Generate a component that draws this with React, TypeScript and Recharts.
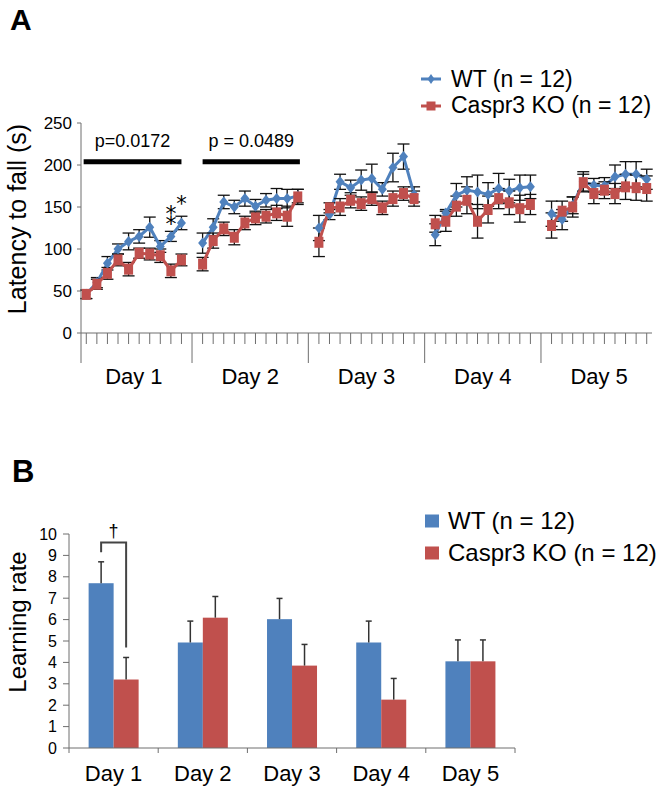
import React from 'react';
import {
  LineChart, Line, XAxis, YAxis, ErrorBar, ReferenceLine, ReferenceDot, Legend,
  BarChart, Bar,
} from 'recharts';

// ---------- data ----------
const days = ['Day 1', 'Day 2', 'Day 3', 'Day 4', 'Day 5'];
const trialsPerDay = 10;
const seriesNames = ['WT (n = 12)', 'Caspr3 KO (n = 12)'];

const wtLatency = [
  46, 60, 83, 100, 109, 115, 126, 103, 115, 131,
  107, 126, 156, 150, 160, 151, 158, 160, 160, 163,
  125, 141, 180, 173, 182, 184, 171, 197, 210, 165,
  117, 143, 164, 170, 168, 165, 172, 169, 173, 174,
  142, 135, 152, 180, 176, 175, 186, 189, 189, 183,
];
const wtLatencySem = [
  5, 6, 8, 6, 10, 8, 12, 7, 6, 8,
  12, 10, 8, 8, 9, 8, 8, 12, 11, 8,
  15, 6, 9, 9, 12, 17, 8, 17, 15, 9,
  13, 4, 14, 16, 20, 14, 18, 14, 15, 14,
  15, 12, 10, 12, 8, 10, 14, 15, 15, 12,
];
const koLatency = [
  46, 58, 71, 87, 76, 95, 94, 92, 74, 87,
  82, 110, 124, 114, 131, 137, 139, 143, 139, 162,
  108, 149, 150, 158, 154, 160, 149, 160, 166, 160,
  130, 133, 151, 158, 133, 147, 160, 155, 148, 153,
  128, 145, 150, 179, 166, 170, 166, 174, 173, 172,
];
const koLatencySem = [
  5, 6, 7, 7, 8, 6, 7, 8, 8, 7,
  8, 9, 8, 9, 8, 8, 8, 9, 12, 9,
  17, 6, 10, 9, 8, 8, 8, 9, 8, 9,
  10, 12, 12, 16, 20, 16, 12, 14, 16, 12,
  15, 12, 12, 10, 12, 10, 12, 15, 15, 15,
];
const latencyTicks = [0, 50, 100, 150, 200, 250];

const sigBars = [
  { from: -0.25, to: 9, y: 204, text: 'p=0.0172' },
  { from: 11, to: 20.2, y: 204, text: 'p = 0.0489' },
];
// significance marks: x position (trial slot), value level at mark centre, mark text
const stars = [
  { x: 8, y: 137, text: '\u2051', size: 22 },
  { x: 9, y: 153, text: '*', size: 21 },
];

const wtRate = [7.7, 4.93, 6.02, 4.93, 4.05];
const wtRateSem = [1.0, 1.0, 0.97, 1.0, 1.0];
const koRate = [3.2, 6.09, 3.85, 2.26, 4.05];
const koRateSem = [1.03, 0.99, 0.99, 0.99, 1.0];
const rateTicks = [0, 1, 2, 3, 4, 5, 6, 7, 8, 9, 10];
const rateBracket = { day: 'Day 1', top: 9.6, wtEnd: 9.15, koEnd: 4.7, symbol: '\u2020' };

// ---------- styles ----------
const BLUE = '#4F81BD';
const RED = '#C0504D';
const AXIS = '#6e6e6e';
const FONT = '"Liberation Sans", Arial, Helvetica, sans-serif';

// ---------- derived tables ----------
const lineData: any[] = [];
const gapPositions: number[] = [];
const dayCenters: number[] = [];
days.forEach((_, di) => {
  const start = lineData.length;
  for (let t = 0; t < trialsPerDay; t++) {
    const k = di * trialsPerDay + t;
    lineData.push({ x: lineData.length, wt: wtLatency[k], wtErr: wtLatencySem[k], ko: koLatency[k], koErr: koLatencySem[k] });
  }
  dayCenters.push(start + (trialsPerDay - 1) / 2);
  if (di < days.length - 1) {
    gapPositions.push(lineData.length);
    lineData.push({ x: lineData.length, wt: null, wtErr: null, ko: null, koErr: null });
  }
});
const xMin = -0.5;
const xMax = lineData.length - 0.5;
const xTicks = [xMin, ...lineData.map((d) => d.x), ...dayCenters];

const rateData = days.map((d, i) => ({
  day: d, wt: wtRate[i], wtErr: wtRateSem[i], ko: koRate[i], koErr: koRateSem[i],
}));

const sortBySeries = (payload: any[] = []) =>
  [...payload].sort((a, b) => seriesNames.indexOf(a.value) - seriesNames.indexOf(b.value));

// ---------- chart A helpers ----------
const A_W = 669, A_H = 400;
const A_MARGIN = { top: 123, right: 17, bottom: 7, left: 0 };

const LatencyTick = (props: any) => {
  const { x, y, payload } = props;
  const v = payload.value;
  const dayIdx = dayCenters.indexOf(v);
  if (dayIdx >= 0) {
    return (
      <text x={x} y={y + 51} textAnchor="middle" fontSize={22} fill="#000">{days[dayIdx]}</text>
    );
  }
  const major = v === xMin || gapPositions.includes(v);
  return <line x1={x} x2={x} y1={y} y2={y + (major ? 30 : 11)} stroke={AXIS} strokeWidth={1} />;
};

const DiamondDot = ({ cx, cy, fill }: any) => {
  if (cx == null || cy == null || Number.isNaN(cy)) return <g />;
  return <path d={`M${cx} ${cy - 5.5} L${cx + 4.5} ${cy} L${cx} ${cy + 5.5} L${cx - 4.5} ${cy} Z`} fill={fill} />;
};
const SquareDot = ({ cx, cy, fill }: any) => {
  if (cx == null || cy == null || Number.isNaN(cy)) return <g />;
  return <rect x={cx - 4.5} y={cy - 5.5} width={9} height={11} fill={fill} />;
};

const legendA = (props: any) => (
  <div style={{ fontFamily: FONT }}>
    {sortBySeries(props.payload).map((entry: any, i: number) => (
      <div key={i} style={{ display: 'flex', alignItems: 'center', height: 26.5, fontSize: 23, color: '#000', whiteSpace: 'nowrap' }}>
        <svg width={22} height={14} style={{ marginRight: 9 }}>
          <line x1={1} x2={21} y1={7} y2={7} stroke={entry.color} strokeWidth={3} />
          {entry.dataKey === 'wt'
            ? <path d="M11 2 L14.5 7 L11 12 L7.5 7 Z" fill={entry.color} />
            : <rect x={6.5} y={2.5} width={9} height={9} fill={entry.color} />}
        </svg>
        <span>{entry.value}</span>
      </div>
    ))}
  </div>
);

const yLabelA = (props: any) => {
  const vb = props.viewBox || {};
  const cx = 17;
  const cy = vb.y + vb.height / 2 - 9;
  return (
    <text x={cx} y={cy} transform={`rotate(-90 ${cx} ${cy})`} textAnchor="middle" dominantBaseline="central" fontSize={25} fill="#000">
      Latency to fall (s)
    </text>
  );
};

// ---------- chart B helpers ----------
const B_W = 669, B_H = 368, B_TOP = 420;
const B_MARGIN = { top: 114, right: 154, bottom: 0, left: 0 };
const B_YAXIS_W = 69;
const rateBand = (B_W - B_MARGIN.left - B_YAXIS_W - B_MARGIN.right) / days.length;

const RateTick = (props: any) => {
  const { x, y, payload } = props;
  const idx = days.indexOf(payload.value);
  const half = rateBand / 2;
  return (
    <g>
      <line x1={x - half} x2={x - half} y1={y} y2={y + 5} stroke={AXIS} />
      {idx === days.length - 1 && <line x1={x + half} x2={x + half} y1={y} y2={y + 5} stroke={AXIS} />}
      <text x={x} y={y + 33} textAnchor="middle" fontSize={22} fill="#000">{payload.value}</text>
    </g>
  );
};

const makeRateShape = (valueKey: string, errKey: string, withBracket: boolean) => (props: any) => {
  const { x, y, width, height, payload, fill } = props;
  const v = payload[valueKey];
  const ppu = height / v;
  const base = y + height;
  const cx = x + width / 2;
  const errTop = y - payload[errKey] * ppu;
  let bracket = null;
  if (withBracket && payload.day === rateBracket.day) {
    const yOf = (val: number) => base - val * ppu;
    const leftX = cx - width;
    const topY = yOf(rateBracket.top);
    bracket = (
      <g>
        <path d={`M${leftX} ${yOf(rateBracket.wtEnd)} V${topY} H${cx} V${yOf(rateBracket.koEnd)}`} fill="none" stroke="#444" strokeWidth={2} />
        <text x={(leftX + cx) / 2} y={topY - 6} textAnchor="middle" fontSize={18} fill="#000">{rateBracket.symbol}</text>
      </g>
    );
  }
  return (
    <g>
      <rect x={x} y={y} width={width} height={height} fill={fill} />
      <line x1={cx} x2={cx} y1={y} y2={errTop} stroke="#333" strokeWidth={1.5} />
      <line x1={cx - 3} x2={cx + 3} y1={errTop} y2={errTop} stroke="#333" strokeWidth={1.5} />
      {bracket}
    </g>
  );
};

const legendB = (props: any) => (
  <div style={{ fontFamily: FONT }}>
    {sortBySeries(props.payload).map((entry: any, i: number) => (
      <div key={i} style={{ display: 'flex', alignItems: 'center', height: 32, fontSize: 24, color: '#000', whiteSpace: 'nowrap' }}>
        <svg width={16} height={14} style={{ marginRight: 8 }}>
          <rect x={1} y={0.5} width={14} height={13} fill={entry.color} />
        </svg>
        <span>{entry.value}</span>
      </div>
    ))}
  </div>
);

const yLabelB = (props: any) => {
  const vb = props.viewBox || {};
  const cx = 17;
  const cy = vb.y + vb.height / 2 - 19;
  return (
    <text x={cx} y={cy} transform={`rotate(-90 ${cx} ${cy})`} textAnchor="middle" dominantBaseline="central" fontSize={24} fill="#000">
      Learning rate
    </text>
  );
};

export default function App() {
  return (
    <div style={{ position: 'absolute', left: 0, top: 0, width: 669, height: 788, background: '#fff', fontFamily: FONT }}>
      <div style={{ position: 'absolute', left: 10, top: 5, fontSize: 30, fontWeight: 'bold', lineHeight: 1 }}>A</div>
      <div style={{ position: 'absolute', left: 12, top: 456, fontSize: 31, fontWeight: 'bold', lineHeight: 1 }}>B</div>

      <div style={{ position: 'absolute', left: 0, top: 0 }}>
        <LineChart width={A_W} height={A_H} data={lineData} margin={A_MARGIN}>
          <XAxis
            type="number" dataKey="x" domain={[xMin, xMax]} ticks={xTicks} interval={0}
            allowDecimals tickLine={false} tickSize={0} tickMargin={0} height={60}
            axisLine={{ stroke: AXIS }} tick={<LatencyTick />}
          />
          <YAxis
            type="number" domain={[0, 250]} ticks={latencyTicks} interval={0} width={81}
            tickSize={4} tickMargin={5} axisLine={{ stroke: AXIS }} tickLine={{ stroke: AXIS }}
            tick={{ fontSize: 17, fill: '#000' }} label={yLabelA}
          />
          <Legend
            layout="vertical" align="center" verticalAlign="middle" content={legendA}
            wrapperStyle={{ left: 420, top: 66, width: 249 }}
          />
          {sigBars.map((b, i) => (
            <ReferenceLine
              key={`sig${i}`}
              segment={[{ x: b.from, y: b.y }, { x: b.to, y: b.y }]}
              stroke="#000" strokeWidth={5} ifOverflow="visible"
              label={(p: any) => {
                const vb = p.viewBox || {};
                return (
                  <text x={vb.x + (vb.width || 0) / 2} y={vb.y - 15} textAnchor="middle" fontSize={18} fill="#000">{b.text}</text>
                );
              }}
            />
          ))}
          <Line
            name={seriesNames[0]} dataKey="wt" stroke={BLUE} strokeWidth={3} isAnimationActive={false}
            connectNulls={false}
            dot={(p: any) => <DiamondDot key={`wd${p.index}`} cx={p.cx} cy={p.cy} fill={BLUE} />}
            activeDot={false}
          >
            <ErrorBar dataKey="wtErr" width={6} stroke="#111" strokeWidth={1.3} direction="y" />
          </Line>
          <Line
            name={seriesNames[1]} dataKey="ko" stroke={RED} strokeWidth={3} isAnimationActive={false}
            connectNulls={false}
            dot={(p: any) => <SquareDot key={`kd${p.index}`} cx={p.cx} cy={p.cy} fill={RED} />}
            activeDot={false}
          >
            <ErrorBar dataKey="koErr" width={6} stroke="#111" strokeWidth={1.3} direction="y" />
          </Line>
          {stars.map((s, i) => (
            <ReferenceDot
              key={`star${i}`} x={s.x} y={s.y} r={0} fill="none" stroke="none" ifOverflow="visible"
              label={(p: any) => {
                const vb = p.viewBox || {};
                const cx = vb.x + (vb.width || 0) / 2;
                const cy = vb.y + (vb.height || 0) / 2;
                return (
                  <text x={cx} y={cy} textAnchor="middle" dominantBaseline="central" fontSize={s.size} fill="#000"
                    style={{ fontFamily: '"DejaVu Sans", "Liberation Sans", sans-serif' }}>
                    {s.text}
                  </text>
                );
              }}
            />
          ))}
        </LineChart>
      </div>

      <div style={{ position: 'absolute', left: 0, top: B_TOP }}>
        <BarChart width={B_W} height={B_H} data={rateData} margin={B_MARGIN} barCategoryGap="22%" barGap={0}>
          <XAxis
            dataKey="day" tickLine={false} tickSize={0} tickMargin={0} height={40} interval={0}
            axisLine={{ stroke: AXIS }} tick={<RateTick />}
          />
          <YAxis
            type="number" domain={[0, 10]} ticks={rateTicks} interval={0} width={B_YAXIS_W}
            tickSize={6} tickMargin={6} axisLine={{ stroke: AXIS }} tickLine={{ stroke: AXIS }}
            tick={{ fontSize: 16, fill: '#000' }} label={yLabelB}
          />
          <Legend
            layout="vertical" align="center" verticalAlign="middle" content={legendB}
            wrapperStyle={{ left: 424, top: 85, width: 245 }}
          />
          <Bar name={seriesNames[0]} dataKey="wt" fill={BLUE} isAnimationActive={false} shape={makeRateShape('wt', 'wtErr', false)} />
          <Bar name={seriesNames[1]} dataKey="ko" fill={RED} isAnimationActive={false} shape={makeRateShape('ko', 'koErr', true)} />
        </BarChart>
      </div>
    </div>
  );
}
